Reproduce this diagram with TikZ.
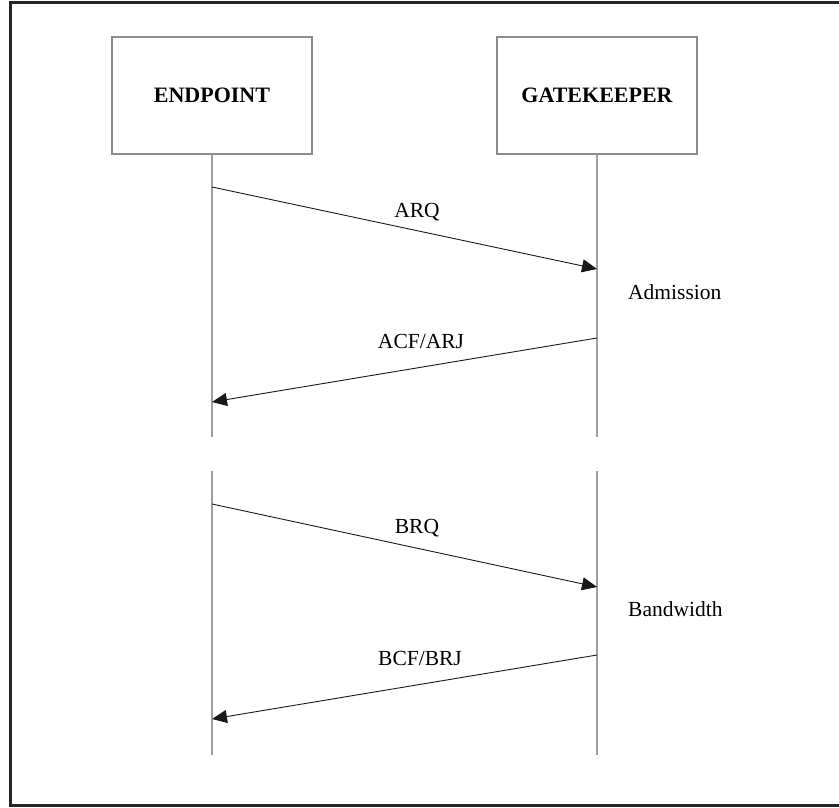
\documentclass[tikz,border=0pt]{standalone}
\usepackage{fontspec}
\setmainfont{Liberation Serif}
\usetikzlibrary{arrows.meta}
\begin{document}
\begin{tikzpicture}[x=1pt,y=-1pt,
  entity/.style={draw=black!45,line width=1.6pt,minimum width=200pt,minimum height=117pt,
    inner sep=0pt,font=\fontsize{22}{24}\selectfont\bfseries},
  lifeline/.style={draw=black!38,line width=2.2pt},
  msg/.style={draw=black!90,line width=0.9pt,-{Triangle[length=15pt,width=13pt]}},
  msglabel/.style={anchor=base,inner sep=0pt,font=\fontsize{21.5}{24}\selectfont},
  phase/.style={anchor=base west,inner sep=0pt,font=\fontsize{21.5}{24}\selectfont}]
\useasboundingbox (0,0) rectangle (839,808);
\fill[white] (0,0) rectangle (839,808);
% outer frame
\draw[black!85,line width=3pt] (848,2.5) -- (10.5,2.5) -- (10.5,805) -- (848,805);

% participants
\node[entity] (ep) at (212,95.5) {ENDPOINT};
\node[entity] (gk) at (597,95.5) {GATEKEEPER};

% lifelines
\coordinate (ep1) at (212,437);
\coordinate (gk1) at (597,437);
\coordinate (ep2t) at (212,471);
\coordinate (ep2b) at (212,755);
\coordinate (gk2t) at (597,471);
\coordinate (gk2b) at (597,755);
\draw[lifeline] (ep.south) -- (ep1);
\draw[lifeline] (gk.south) -- (gk1);
\draw[lifeline] (ep2t) -- (ep2b);
\draw[lifeline] (gk2t) -- (gk2b);

% admission exchange
\coordinate (arqA) at (212,187);
\coordinate (arqB) at (597,269);
\coordinate (acfA) at (597,338);
\coordinate (acfB) at (212,402);
\draw[msg] (arqA) -- (arqB);
\draw[msg] (acfA) -- (acfB);
\node[msglabel] (arq) at (417,217) {ARQ};
\node[msglabel] (acf) at (421,348.5) {ACF/ARJ};
\node[phase] (adm) at (628,299) {Admission};

% bandwidth exchange
\coordinate (brqA) at (212,504);
\coordinate (brqB) at (597,587);
\coordinate (bcfA) at (597,655);
\coordinate (bcfB) at (212,719);
\draw[msg] (brqA) -- (brqB);
\draw[msg] (bcfA) -- (bcfB);
\node[msglabel] (brq) at (417,533) {BRQ};
\node[msglabel] (bcf) at (420,665.5) {BCF/BRJ};
\node[phase] (bw) at (628,616) {Bandwidth};
\end{tikzpicture}
\end{document}
